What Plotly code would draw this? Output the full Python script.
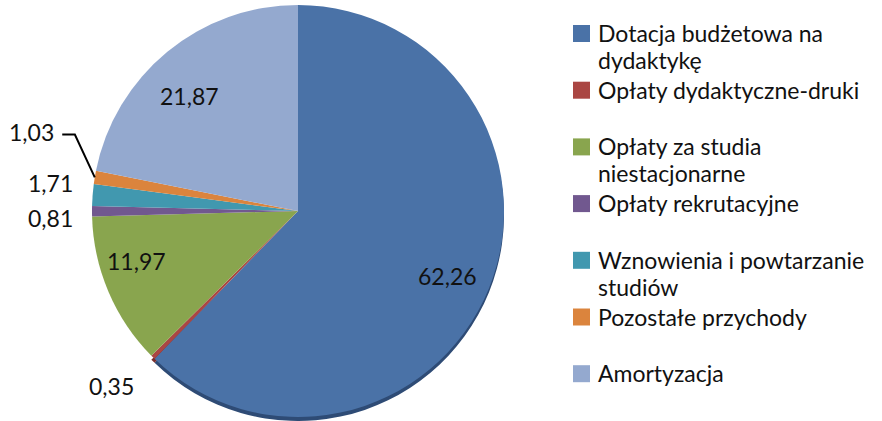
import math
import plotly.graph_objects as go

# ---- data ----
labels = [
    "Dotacja budżetowa na<br>dydaktykę",
    "Opłaty dydaktyczne-druki",
    "Opłaty za studia<br>niestacjonarne",
    "Opłaty rekrutacyjne",
    "Wznowienia i powtarzanie<br>studiów",
    "Pozostałe przychody",
    "Amortyzacja",
]
values = [62.26, 0.35, 11.97, 0.81, 1.71, 1.03, 21.87]
value_text = ["62,26", "0,35", "11,97", "0,81", "1,71", "1,03", "21,87"]

colors = ["#4A72A7", "#AA4643", "#89A54E", "#71588F", "#4198AF", "#DB843D", "#94A9CF"]
shadow_colors = ["#2E4B75", "#7A2E2C", "rgba(0,0,0,0)", "rgba(0,0,0,0)",
                 "rgba(0,0,0,0)", "rgba(0,0,0,0)", "rgba(0,0,0,0)"]

W, H = 882, 421
cx, cy, R = 298, 211, 206
RIM = 4

# label placement style: radial factor and angular nudge (degrees)
label_r = [0.79, 1.24, 0.82, 1.20, 1.21, 1.35, 0.77]
label_da = [1.5, 2, 6, -1.5, 2, 7, -4]

# legend style
LEG_SQ_X0, LEG_SQ_X1 = 573, 590
LEG_TEXT_X = 596
LEG_Y0, LEG_PITCH, LEG_LINE = 31, 56.7, 27

FONT = "Lato, Calibri, Carlito, sans-serif"
TXT = "#111111"


def px_to_paper(x, y):
    return x / W, 1 - y / H


def clamp(v):
    return min(1.0, max(0.0, v))


names = [l.replace("<br>", " ") for l in labels]

fig = go.Figure()

# subtle 3D rim
fig.add_trace(go.Pie(
    values=values, labels=names, sort=False, direction="clockwise", rotation=0,
    marker=dict(colors=shadow_colors, line=dict(width=0)),
    textinfo="none", hoverinfo="skip", showlegend=False,
    domain=dict(x=[(cx - R) / W, (cx + R) / W],
                y=[clamp(1 - (cy + R + RIM) / H), clamp(1 - (cy - R + RIM) / H)]),
))

fig.add_trace(go.Pie(
    values=values, labels=names, sort=False, direction="clockwise", rotation=0,
    marker=dict(colors=colors, line=dict(width=0)),
    textinfo="none", showlegend=False,
    domain=dict(x=[(cx - R) / W, (cx + R) / W],
                y=[clamp(1 - (cy + R) / H), clamp(1 - (cy - R) / H)]),
))

total = sum(values)
cum = 0
annotations = []
shapes = []
for i, v in enumerate(values):
    mid = (cum + v / 2) / total * 360
    cum += v
    ang = math.radians(mid + label_da[i])
    lx = cx + R * label_r[i] * math.sin(ang)
    ly = cy - R * label_r[i] * math.cos(ang)
    xp, yp = px_to_paper(lx, ly)
    annotations.append(dict(
        x=xp, y=yp, xref="paper", yref="paper", text=value_text[i],
        showarrow=False, font=dict(family=FONT, size=23, color=TXT),
        xanchor="center", yanchor="middle",
    ))
    if i == 5:
        # leader line from slice edge to label
        a0 = math.radians(mid)
        ex, ey = cx + R * math.sin(a0), cy - R * math.cos(a0)
        a1 = math.radians(mid + 9.5)
        bx, by = cx + R * 1.145 * math.sin(a1), cy - R * 1.145 * math.cos(a1)
        tx = lx + 31
        p = [px_to_paper(ex, ey), px_to_paper(bx, by), px_to_paper(tx, by)]
        shapes.append(dict(
            type="path", xref="paper", yref="paper",
            path=f"M{p[0][0]},{p[0][1]} L{p[1][0]},{p[1][1]} L{p[2][0]},{p[2][1]}",
            line=dict(color="black", width=2),
        ))

# legend (drawn to match Excel's compact line spacing)
for i, lab in enumerate(labels):
    y0 = LEG_Y0 + i * LEG_PITCH
    sx0, sy0 = px_to_paper(LEG_SQ_X0, y0 - 6)
    sx1, sy1 = px_to_paper(LEG_SQ_X1, y0 + 11)
    shapes.append(dict(type="rect", xref="paper", yref="paper",
                       x0=sx0, x1=sx1, y0=sy0, y1=sy1,
                       fillcolor=colors[i], line=dict(width=0)))
    for j, line in enumerate(lab.split("<br>")):
        tx, ty = px_to_paper(LEG_TEXT_X, y0 + 2 + j * LEG_LINE)
        annotations.append(dict(
            x=tx, y=ty, xref="paper", yref="paper", text=line,
            showarrow=False, font=dict(family=FONT, size=23, color=TXT),
            xanchor="left", yanchor="middle",
        ))

fig.update_layout(
    width=W, height=H,
    margin=dict(l=0, r=0, t=0, b=0, autoexpand=False),
    paper_bgcolor="white",
    plot_bgcolor="white",
    annotations=annotations,
    shapes=shapes,
    showlegend=False,
)

fig.write_html(
    "out.html",
    config={"displayModeBar": False},
    post_script="document.body.style.margin='0';document.body.style.padding='0';",
)
